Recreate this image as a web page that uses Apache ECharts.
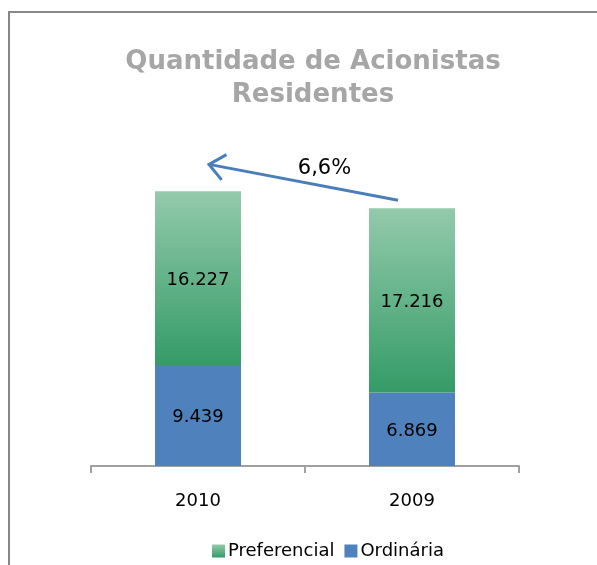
<!DOCTYPE html>
<html>
<head>
<meta charset="utf-8">
<script src="https://cdn.jsdelivr.net/npm/echarts@6/dist/echarts.min.js"></script>
<style>
  html, body { margin: 0; padding: 0; background: #fff; }
  #main { width: 597px; height: 565px; }
</style>
</head>
<body>
<div id="main"></div>
<script>
// dados do grafico
var anos = ['2010', '2009'];
var ordinaria = [9439, 6869];
var preferencial = [16227, 17216];
var variacao = '6,6%';

var fonte = 'DejaVu Sans, Verdana, sans-serif';

function fmt(v) {
    // 16227 -> 16.227
    return String(v).replace(/\B(?=(\d{3})+(?!\d))/g, '.');
}

var chart = echarts.init(document.getElementById('main'));

var option = {
    animation: false,
    backgroundColor: '#fff',
    title: {
        text: 'Quantidade de Acionistas\nResidentes',
        left: 313,
        textAlign: 'center',
        top: 46,
        padding: 0,
        textStyle: {
            fontFamily: fonte,
            fontSize: 26,
            fontWeight: 'bold',
            color: '#a6a6a6',
            lineHeight: 33
        }
    },
    legend: {
        data: ['Preferencial', 'Ordinária'],
        top: 537,
        left: 207,
        itemWidth: 13,
        itemHeight: 13,
        itemGap: 10,
        icon: 'rect',
        textStyle: { fontFamily: fonte, fontSize: 18, color: '#000', padding: [0, 0, 0, -2] }
    },
    grid: { left: 91, right: 78, top: 145, bottom: 99 },
    xAxis: {
        type: 'category',
        data: anos,
        axisLine: { lineStyle: { color: '#a0a0a0', width: 2 } },
        axisTick: { show: true, length: 7, lineStyle: { color: '#a0a0a0', width: 2 } },
        axisLabel: { fontFamily: fonte, fontSize: 18, color: '#000', margin: 26 }
    },
    yAxis: {
        type: 'value',
        min: 0,
        max: 30000,
        show: false,
        splitLine: { show: false }
    },
    series: [
        {
            name: 'Ordinária',
            type: 'bar',
            stack: 'total',
            barWidth: 86,
            data: ordinaria,
            itemStyle: { color: '#4f81bd' },
            label: {
                show: true,
                position: 'inside',
                offset: [0, 2],
                fontFamily: fonte,
                fontSize: 18,
                color: '#000',
                formatter: function (p) { return fmt(p.value); }
            }
        },
        {
            name: 'Preferencial',
            type: 'bar',
            stack: 'total',
            barWidth: 86,
            data: preferencial,
            itemStyle: {
                color: new echarts.graphic.LinearGradient(0, 0, 0, 1, [
                    { offset: 0, color: '#93caab' },
                    { offset: 1, color: '#349b67' }
                ])
            },
            label: {
                show: true,
                position: 'inside',
                offset: [0, 2],
                fontFamily: fonte,
                fontSize: 18,
                color: '#000',
                formatter: function (p) { return fmt(p.value); }
            }
        }
    ]
};

chart.setOption(option);

// seta de variacao entre os topos das barras
var topo2010 = chart.convertToPixel({ gridIndex: 0 }, [0, ordinaria[0] + preferencial[0]]);
var topo2009 = chart.convertToPixel({ gridIndex: 0 }, [1, ordinaria[1] + preferencial[1]]);
var ini = [topo2009[0] - 14, topo2009[1] - 8];
var fim = [topo2010[0] + 11, topo2010[1] - 27];
var ang = Math.atan2(ini[1] - fim[1], ini[0] - fim[0]);
var cab = 20, abre = 0.7;

chart.setOption({
    graphic: [
        {
            type: 'rect',
            shape: { x: 9, y: 12, width: 700, height: 700 },
            style: { fill: 'none', stroke: '#888', lineWidth: 2 },
            silent: true
        },
        {
            type: 'line',
            shape: { x1: ini[0], y1: ini[1], x2: fim[0], y2: fim[1] },
            style: { stroke: '#4a7ebb', lineWidth: 3 }
        },
        {
            type: 'polyline',
            shape: {
                points: [
                    [fim[0] + cab * Math.cos(ang - abre), fim[1] + cab * Math.sin(ang - abre)],
                    fim,
                    [fim[0] + cab * Math.cos(ang + abre), fim[1] + cab * Math.sin(ang + abre)]
                ]
            },
            style: { stroke: '#4a7ebb', lineWidth: 3, fill: 'none' }
        },
        {
            type: 'text',
            x: (ini[0] + fim[0]) / 2 + 21,
            y: (ini[1] + fim[1]) / 2 - 14,
            style: {
                text: variacao,
                fontFamily: fonte,
                fontSize: 21,
                fill: '#000',
                align: 'center',
                verticalAlign: 'middle'
            }
        }
    ]
});
</script>
</body>
</html>
